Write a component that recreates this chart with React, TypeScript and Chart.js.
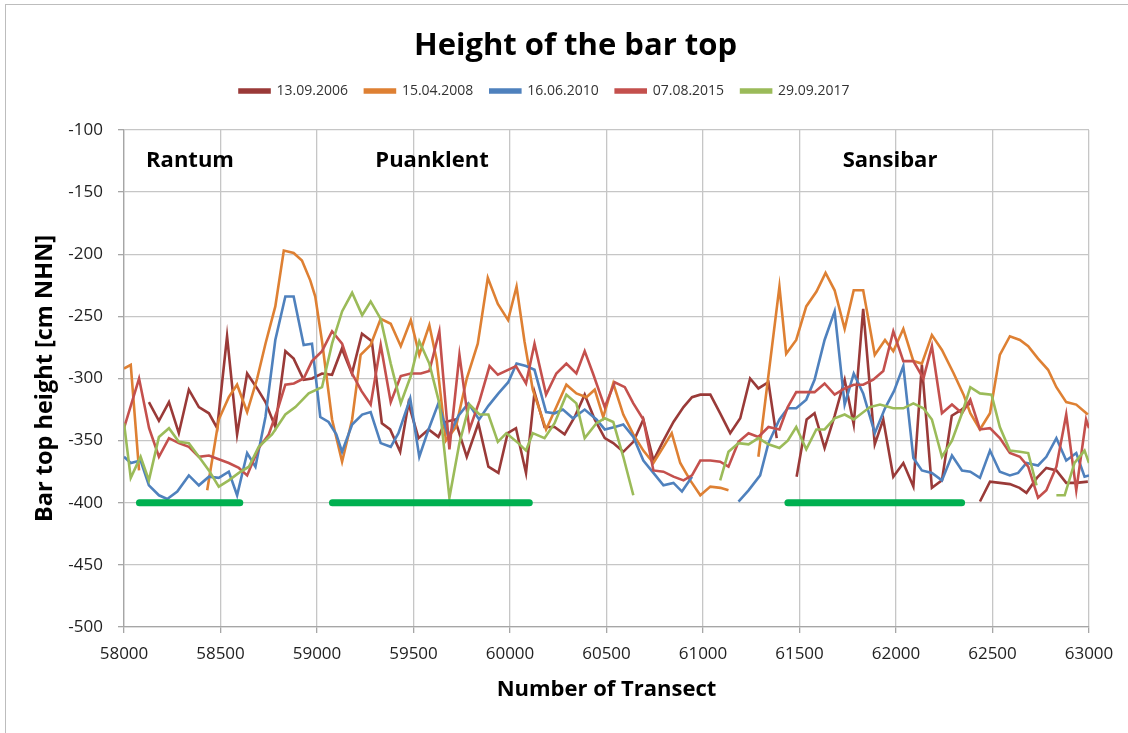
import React, { useEffect, useRef } from "react";
import { Chart, registerables } from "chart.js";
Chart.register(...registerables);

const TITLE = "\u2002\u2002\u2002\u2002Height of the bar top";
const X_TITLE = "Number of Transect";
const Y_TITLE = "Bar top height [cm NHN]";
const LABELS = ["13.09.2006", "15.04.2008", "16.06.2010", "07.08.2015", "29.09.2017"];
const COLORS = ["#9A3A38", "#DE8033", "#4F81BD", "#C4504D", "#9BBB59"];

const X_2006 = [58129,58181,58233,58284,58336,58388,58440,58483,58534,58586,58638,58690,58733,58784,58836,58879,58931,58974,59026,59078,59129,59181,59233,59284,59336,59379,59431,59474,59526,59578,59629,59664,59715,59776,59836,59888,59940,59988,60031,60083,60127,60179,60231,60283,60335,60387,60439,60491,60535,60587,60639,60691,60743,60795,60847,60899,60943,60986,61038,61089,61141,61193,61244,61287,61339,61382,61430,61485,61537,61578,61630,61682,61734,61781,61830,61890,61934,61986,62038,62090,62134,62186,62238,62289,62340,62384,62410,62435,62487,62538,62590,62640,62676,62730,62779,62831,62882,62934,62994];
const Y_2006 = [-319,-334,-319,-344,-309,-323,-328,-340,-266,-345,-296,-308,-319,-339,-278,-284,-301,-300,-296,-297,-276,-296,-264,-270,-336,-341,-359,-320,-348,-341,-347,-335,-333,-363,-336,-371,-376,-344,-340,-376,-311,-339,-339,-345,-331,-313,-333,-348,-352,-359,-351,-333,-366,-350,-335,-323,-315,-313,-313,-328,-344,-332,-300,-308,-303,-348,null,-379,-333,-328,-356,-330,-301,-337,-244,-353,-333,-379,-368,-387,-289,-388,-382,-330,-325,-320,null,-399,-383,-384,-385,-388,-392,-380,-372,-374,-384,-384,-383];

const X_2008 = [58000,58035,58078,58250,58431,58491,58543,58586,58638,58690,58733,58784,58828,58879,58922,58965,58991,59026,59078,59130,59182,59226,59278,59330,59382,59434,59486,59530,59582,59620,59668,59720,59776,59833,59885,59937,59990,60034,60075,60118,60187,60240,60292,60344,60396,60439,60483,60535,60587,60639,60691,60743,60795,60838,60882,60934,60986,61038,61090,61132,61200,61287,61396,61431,61483,61535,61588,61635,61682,61734,61781,61830,61890,61943,61986,62038,62090,62134,62186,62238,62299,62350,62385,62435,62487,62538,62590,62642,62685,62736,62788,62831,62882,62934,62994];
const Y_2008 = [-292,-289,-374,null,-390,-333,-315,-305,-327,-300,-272,-242,-197,-199,-205,-221,-234,-270,-333,-367,-333,-281,-273,-252,-256,-274,-253,-281,-257,-285,-350,-339,-300,-272,-219,-240,-253,-226,-270,-309,-341,-323,-305,-312,-315,-309,-331,-304,-329,-345,-358,-368,-355,-344,-368,-382,-394,-387,-388,-390,null,-363,-226,-280,-269,-242,-230,-215,-229,-260,-229,-229,-281,-269,-278,-260,-286,-288,-265,-277,-296,-313,-328,-341,-328,-281,-266,-269,-274,-284,-293,-307,-319,-321,-329];

const X_2010 = [58000,58035,58086,58129,58181,58224,58276,58336,58388,58440,58491,58543,58586,58638,58681,58733,58784,58836,58879,58931,58974,59017,59060,59100,59130,59182,59234,59278,59330,59382,59422,59483,59530,59578,59629,59681,59733,59784,59840,59888,59940,59991,60034,60083,60127,60187,60231,60274,60326,60387,60448,60491,60543,60587,60639,60691,60743,60795,60847,60891,60943,61050,61184,61236,61296,61339,61396,61439,61483,61535,61578,61630,61682,61734,61781,61830,61890,61943,61990,62038,62090,62134,62186,62238,62290,62342,62385,62435,62487,62538,62590,62633,62676,62736,62779,62831,62882,62934,62977,63000];
const Y_2010 = [-363,-368,-366,-386,-394,-397,-391,-378,-386,-379,-380,-375,-394,-360,-371,-331,-269,-234,-234,-273,-272,-331,-335,-345,-359,-337,-329,-327,-352,-355,-344,-316,-363,-341,-320,-347,-330,-320,-333,-322,-312,-303,-288,-290,-293,-327,-328,-325,-332,-325,-333,-341,-339,-337,-347,-366,-376,-386,-384,-391,-379,null,-399,-390,-378,-352,-333,-324,-324,-317,-301,-269,-246,-321,-296,-312,-344,-324,-310,-290,-364,-374,-376,-382,-362,-374,-375,-380,-358,-375,-378,-376,-368,-370,-363,-348,-366,-360,-379,-378];

const X_2015 = [58000,58078,58130,58181,58233,58284,58336,58388,58440,58491,58543,58595,58638,58698,58750,58800,58836,58880,58931,58974,59026,59078,59130,59182,59230,59278,59330,59382,59434,59486,59538,59582,59634,59686,59738,59790,59842,59894,59937,59990,60031,60083,60127,60187,60240,60292,60344,60387,60430,60491,60543,60595,60639,60691,60743,60795,60847,60899,60943,60986,61038,61089,61132,61184,61236,61287,61339,61396,61439,61483,61535,61578,61630,61682,61734,61781,61830,61882,61934,61986,62038,62090,62142,62186,62238,62290,62342,62385,62435,62487,62538,62590,62642,62685,62736,62779,62831,62882,62934,62985,63000];
const Y_2015 = [-340,-300,-340,-363,-348,-352,-355,-363,-362,-365,-368,-372,-378,-356,-345,-323,-305,-304,-300,-286,-278,-262,-272,-296,-310,-321,-273,-319,-298,-296,-296,-294,-262,-357,-281,-341,-318,-290,-297,-293,-290,-304,-272,-313,-296,-288,-296,-278,-296,-323,-303,-307,-320,-333,-374,-375,-379,-382,-378,-366,-366,-367,-371,-351,-344,-347,-339,-341,-323,-311,-311,-311,-304,-313,-308,-305,-305,-301,-294,-262,-286,-286,-300,-274,-328,-321,-328,-317,-341,-340,-348,-360,-363,-371,-396,-390,-371,-329,-390,-333,-340];

const X_2017 = [58000,58035,58086,58129,58181,58233,58284,58336,58388,58440,58491,58543,58595,58647,58698,58767,58836,58888,58957,59026,59078,59130,59182,59234,59278,59330,59382,59434,59486,59530,59582,59634,59686,59738,59790,59842,59888,59937,59981,60043,60083,60118,60179,60231,60292,60344,60387,60448,60491,60535,60587,60639,60850,61089,61132,61184,61236,61287,61339,61396,61439,61483,61535,61587,61630,61682,61734,61781,61865,61917,61986,62038,62090,62142,62186,62238,62290,62342,62385,62435,62495,62538,62590,62642,62685,62728,62780,62831,62874,62925,62977,63000];
const Y_2017 = [-336,-380,-363,-382,-347,-340,-351,-352,-363,-374,-387,-382,-376,-371,-355,-345,-329,-323,-312,-307,-272,-246,-231,-249,-238,-252,-288,-320,-298,-270,-288,-320,-396,-352,-321,-329,-329,-351,-344,-352,-358,-344,-348,-336,-313,-320,-348,-336,-332,-335,-363,-394,null,-382,-359,-352,-353,-348,-353,-356,-350,-339,-357,-341,-341,-332,-329,-333,-323,-321,-324,-324,-320,-324,-333,-363,-350,-328,-307,-312,-313,-339,-358,-359,-360,-386,null,-394,-394,-368,-358,-368];

const BAR_STARTS = [58080, 59080, 61440];
const BAR_ENDS = [58600, 60100, 62340];
const BAR_LEVEL = -400;

const REGION_NAMES = ["Rantum", "Puanklent", "Sansibar"];
const REGION_X = [58342, 59596, 61969];
const REGION_Y = -125;

const X_TICKS = [58000, 58500, 59000, 59500, 60000, 60500, 61000, 61500, 62000, 62500, 63000];
const Y_MIN = -500;
const Y_MAX = -100;
const Y_STEP = 50;

const pts = (xs: number[], ys: (number | null)[]) => xs.map((x, i) => ({ x, y: ys[i] }));

const regionPlugin = {
  id: "regionLabels",
  afterDatasetsDraw(chart: any) {
    const { ctx, scales } = chart;
    ctx.save();
    ctx.font = 'bold 22px "Open Sans"';
    ctx.fillStyle = "#000";
    ctx.textAlign = "center";
    ctx.textBaseline = "middle";
    REGION_NAMES.forEach((n, i) => {
      ctx.fillText(n, scales.x.getPixelForValue(REGION_X[i]), scales.y.getPixelForValue(REGION_Y));
    });
    ctx.restore();
  },
};

export default function App() {
  const ref = useRef<HTMLCanvasElement>(null);
  useEffect(() => {
    if (!ref.current) return;
    const series = [
      [X_2006, Y_2006],
      [X_2008, Y_2008],
      [X_2010, Y_2010],
      [X_2015, Y_2015],
      [X_2017, Y_2017],
    ];
    const datasets: any[] = series.map((s, i) => ({
      label: LABELS[i],
      data: pts(s[0] as number[], s[1] as (number | null)[]),
      borderColor: COLORS[i],
      backgroundColor: COLORS[i],
      borderWidth: 2.6,
      pointRadius: 0,
      tension: 0,
      spanGaps: false,
      order: 5 - i,
    }));
    BAR_STARTS.forEach((s, i) => {
      datasets.push({
        label: "bar" + i,
        data: [{ x: s, y: BAR_LEVEL }, { x: BAR_ENDS[i], y: BAR_LEVEL }],
        borderColor: "#00B050",
        backgroundColor: "#00B050",
        borderWidth: 7,
        borderCapStyle: "round",
        pointRadius: 0,
        order: 0,
      });
    });
    const chart = new Chart(ref.current, {
      type: "line",
      data: { datasets },
      plugins: [regionPlugin],
      options: {
        animation: false,
        responsive: true,
        maintainAspectRatio: false,
        layout: { padding: { top: 0, left: 0, right: 39, bottom: 0 } },
        plugins: {
          title: {
            display: true,
            text: TITLE,
            color: "#000",
            font: { family: '"Open Sans"', size: 31, weight: "bold" },
            padding: { top: 27.4, bottom: 2.4 },
          },
          subtitle: {
            display: true,
            text: " ",
            weight: 500,
            font: { size: 10 },
            padding: { top: 0, bottom: 10 },
          },
          legend: {
            display: true,
            labels: {
              boxWidth: 30,
              boxHeight: 3,
              padding: 17,
              color: "#333",
              font: { family: '"Open Sans"', size: 14 },
              filter: (item: any) => !String(item.text).startsWith("bar"),
              sort: (a: any, b: any) => a.datasetIndex - b.datasetIndex,
            },
          },
          tooltip: { enabled: false },
        },
        scales: {
          x: {
            type: "linear",
            min: X_TICKS[0],
            max: X_TICKS[X_TICKS.length - 1],
            afterFit: (s: any) => { s.height = 106; },
            afterBuildTicks: (s: any) => { s.ticks = X_TICKS.map((v) => ({ value: v })); },
            ticks: {
              color: "#222",
              font: { family: '"Open Sans"', size: 17 },
              padding: 11,
              maxRotation: 0,
              callback: (v: any) => String(v),
            },
            grid: { color: "#C6C6C6", lineWidth: 1.3, tickLength: 6, tickColor: "#A6A6A6" },
            border: { color: "#A6A6A6", width: 1.3 },
            title: {
              display: true,
              text: X_TITLE,
              color: "#000",
              font: { family: '"Open Sans"', size: 22, weight: "bold" },
              padding: { top: 0, bottom: 29.8 },
            },
          },
          y: {
            type: "linear",
            min: Y_MIN,
            max: Y_MAX,
            afterFit: (s: any) => { s.width = 124; },
            ticks: {
              stepSize: Y_STEP,
              color: "#222",
              font: { family: '"Open Sans"', size: 17 },
              padding: 15,
              callback: (v: any) => String(v),
            },
            grid: { color: "#C6C6C6", lineWidth: 1.3, tickLength: 6, tickColor: "#A6A6A6" },
            border: { color: "#A6A6A6", width: 1.3 },
            title: {
              display: true,
              text: Y_TITLE,
              color: "#000",
              font: { family: '"Open Sans"', size: 23.5, weight: "bold" },
              padding: { top: 31, bottom: 0 },
            },
          },
        },
      } as any,
    });
    return () => chart.destroy();
  }, []);
  return (
    <div style={{ position: "fixed", left: 0, top: 0, width: 1128, height: 733, background: "#fff" }}>
      <canvas ref={ref} />
      <div
        style={{
          position: "absolute",
          left: 5,
          top: 4,
          right: 0,
          bottom: 0,
          borderTop: "1.5px solid #BDBDBD",
          borderLeft: "1.5px solid #BDBDBD",
          pointerEvents: "none",
        }}
      />
    </div>
  );
}
